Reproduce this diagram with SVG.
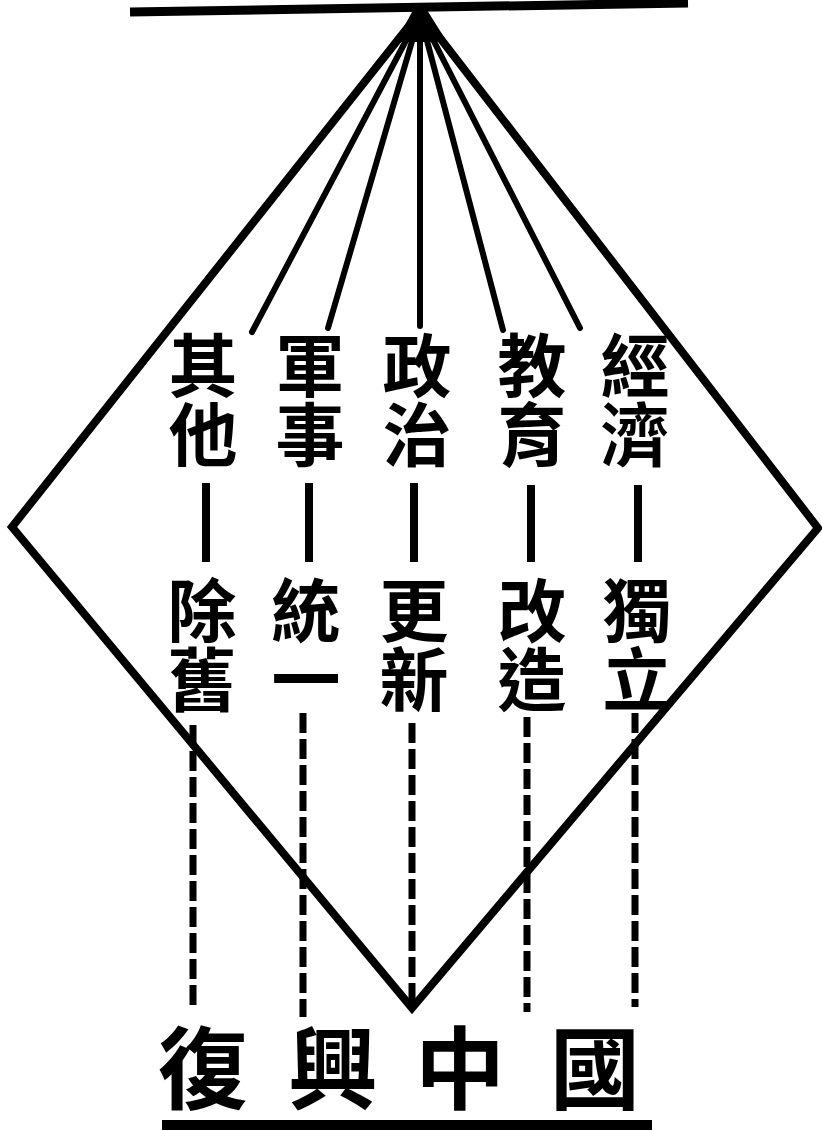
<svg xmlns="http://www.w3.org/2000/svg" width="822" height="1131" viewBox="0 0 822 1131">
<style>
.bar{stroke:#000;fill:none}
.fan{stroke:#000;stroke-width:6;fill:none;stroke-linecap:round}
.edge{stroke:#000;stroke-width:8;fill:none;stroke-linejoin:miter}
.link{stroke:#000;stroke-width:8;fill:none}
.dash{stroke:#000;stroke-width:7;fill:none;stroke-dasharray:20 6}
.t{font-family:"Noto Sans CJK TC","Noto Sans CJK SC",sans-serif;font-weight:700;font-size:69px;fill:#000;writing-mode:vertical-rl}
.big{font-family:"Noto Sans CJK TC","Noto Sans CJK SC",sans-serif;font-weight:700;font-size:90px;fill:#000;text-anchor:middle}
</style>
<rect width="822" height="1131" fill="#fff"/>
<g id="frame">
<line class="bar" x1="130" y1="12" x2="688" y2="3" stroke-width="9"/>
<polygon points="413,10 427,10 447,42 396,42" fill="#000"/>
<polygon class="edge" points="420,12 12,527 412,1008 818,528"/>
<line class="bar" x1="162" y1="1125" x2="652" y2="1125" stroke-width="10"/>
</g>
<g id="connectors">
<line class="fan" x1="420" y1="14" x2="252" y2="332"/>
<line class="fan" x1="420" y1="14" x2="328" y2="328"/>
<line class="fan" x1="420" y1="14" x2="420" y2="326"/>
<line class="fan" x1="420" y1="14" x2="503" y2="330"/>
<line class="fan" x1="420" y1="14" x2="580" y2="328"/>
<line class="link" x1="206" y1="483" x2="206" y2="562"/>
<line class="link" x1="309" y1="483" x2="309" y2="562"/>
<line class="link" x1="414" y1="483" x2="414" y2="562"/>
<line class="link" x1="531" y1="485" x2="531" y2="562"/>
<line class="link" x1="638" y1="485" x2="638" y2="562"/>
<line class="dash" x1="193" y1="725" x2="193" y2="1007"/>
<line class="dash" x1="303" y1="713" x2="303" y2="1017"/>
<line class="dash" x1="412" y1="723" x2="412" y2="1005"/>
<line class="dash" x1="527" y1="717" x2="527" y2="1012"/>
<line class="dash" x1="635" y1="713" x2="635" y2="1007"/>
</g>
<g id="qita"><text class="t" x="203" y="331">其他</text></g>
<g id="chujiu"><text class="t" x="202" y="576">除舊</text></g>
<g id="junshi"><text class="t" x="310" y="331">軍事</text></g>
<g id="tongyi"><text class="t" x="306" y="576">統一</text></g>
<g id="zhengzhi"><text class="t" x="417" y="331">政治</text></g>
<g id="gengxin"><text class="t" x="414" y="576">更新</text></g>
<g id="jiaoyu"><text class="t" x="532" y="331">教育</text></g>
<g id="gaizao"><text class="t" x="532" y="576">改造</text></g>
<g id="jingji"><text class="t" x="635" y="331">經濟</text></g>
<g id="duli"><text class="t" x="637" y="576">獨立</text></g>
<g id="fuxing"><text class="big" x="203" y="1102">復</text><text class="big" x="333" y="1102">興</text><text class="big" x="460" y="1102">中</text><text class="big" x="595" y="1102">國</text></g>
</svg>
